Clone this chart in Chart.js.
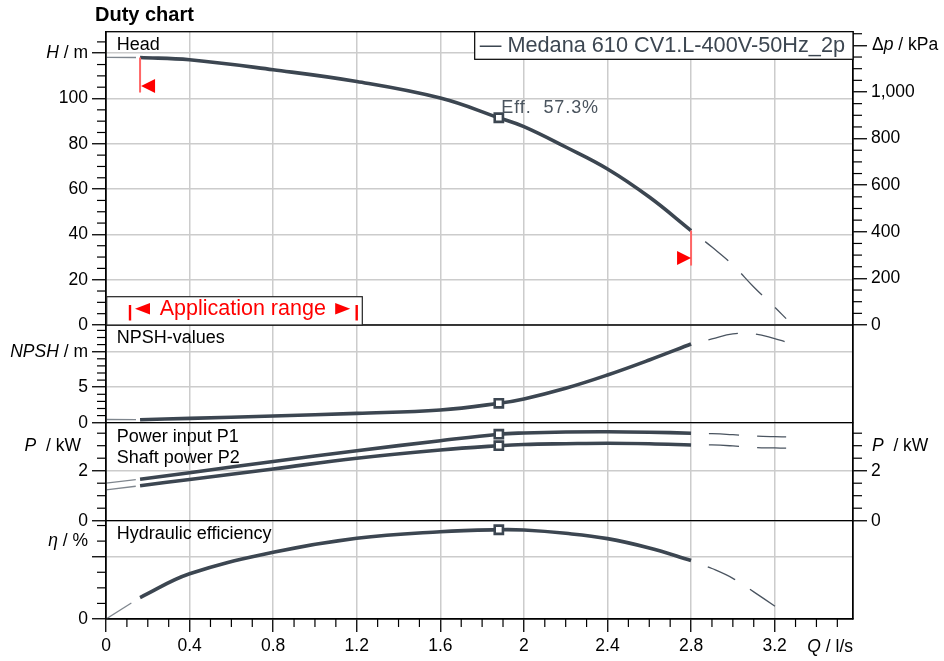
<!DOCTYPE html>
<html>
<head>
<meta charset="utf-8">
<script src="https://cdn.jsdelivr.net/npm/chart.js@4.4.0/dist/chart.umd.min.js"></script>
<style>
  body { margin: 0; background: #fff; }
</style>
</head>
<body>
<canvas id="duty" width="944" height="661"></canvas>

<script>
    // curve points inside the application range (Q in l/s)
    const flow = [0.163, 0.4, 0.8, 1.2, 1.6, 1.88, 2.0, 2.2, 2.4, 2.6, 2.8];
    const head = [118.1, 117.1, 112.7, 107.5, 100.2, 91.5, 87.6, 78.6, 68.9, 56.5, 41.7];
    const npsh = [0.42, 0.61, 0.94, 1.32, 1.79, 2.73, 3.35, 4.85, 6.72, 8.83, 11.08];
    const powerP1 = [1.66, 1.92, 2.37, 2.80, 3.20, 3.46, 3.51, 3.55, 3.56, 3.54, 3.50];
    const powerP2 = [1.40, 1.65, 2.07, 2.50, 2.83, 3.00, 3.05, 3.08, 3.10, 3.08, 3.03];
    const efficiency = [13.8, 29.0, 42.8, 51.8, 56.0, 57.3, 57.1, 55.0, 51.6, 45.6, 37.6];
    const dutyIndex = 5;

    // thin dashed parts outside the range
    const flowLow = [0, 0.163];
    const headLow = [118.2, 118.1];
    const npshLow = [0.45, 0.42];
    const p1Low = [1.50, 1.66];
    const p2Low = [1.23, 1.40];
    const effLow = [0, 13.8];

    const flowHigh = [2.8, 2.9, 3.0, 3.1, 3.2, 3.255];
    const headHigh = [41.7, 34.4, 26.5, 16.8, 7.9, 2.8];
    const npshHigh = [11.08, 11.8, 12.5, 12.5, 11.85, 11.37];
    const p1High = [3.50, 3.48, 3.44, 3.39, 3.36, 3.35];
    const p2High = [3.03, 3.03, 2.99, 2.93, 2.91, 2.90];
    const effHigh = [37.6, 32.4, 26.1, 17.4, 8.3, 3.0];

    const appRange = [0.163, 2.8];
    const pumpName = "Medana 610 CV1.L-400V-50Hz_2p";

    // axis ranges and ticks
    const flowMax = 3.575;
    const xTicks = [0, 0.4, 0.8, 1.2, 1.6, 2, 2.4, 2.8, 3.2];
    const headMax = 129.5, headTicks = [0, 20, 40, 60, 80, 100, 120];
    const kPaPerMetre = 9.72;
    const dpTicks = [0, 200, 400, 600, 800, 1000, 1200];
    const npshMax = 13.76, npshTicks = [0, 5, 10];
    const powerMax = 3.92, powerTicks = [0, 2];
    const effMax = 63.1, effTicks = [0, 40];

    const FONT = '"Liberation Sans", Arial, sans-serif';
    const CURVE = "#3c4651";
    const GRID = "#cccccc";
    const tickFont = {family: FONT, size: 17.5};

    function pts(xs, ys) {
        return xs.map((x, i) => ({x: x, y: ys[i]}));
    }

    function series(axis, ys, low, high) {
        return [
            {data: pts(flow, ys), yAxisID: axis, borderColor: CURVE, borderWidth: 3.6,
             tension: 0.4, pointRadius: 0, order: 2},
            {data: pts(flowLow, low), yAxisID: axis, borderColor: "#7f868e", borderWidth: 1.3,
             borderDash: [30, 18], pointRadius: 0, order: 3},
            {data: pts(flowHigh, high), yAxisID: axis, borderColor: "#4a5460", borderWidth: 1.3,
             borderDash: [30, 18], borderDashOffset: 30, tension: 0.4,
             pointRadius: 0, order: 3},
            {data: [{x: flow[dutyIndex], y: ys[dutyIndex]}], yAxisID: axis, showLine: false,
             pointStyle: "rect", pointRadius: 5.8, borderWidth: 2.6, borderColor: CURVE,
             backgroundColor: "#fff", order: 1}
        ];
    }

    function yAxis(pos, weight, stackWeight, max, ticks, hide) {
        const left = pos === "left";
        return {
            type: "linear", position: pos, stack: left ? "L" : "R", stackWeight: stackWeight, weight: weight,
            min: 0, max: max,
            afterBuildTicks: sc => { sc.ticks = ticks.map(v => ({value: v})); },
            afterFit: sc => { sc.width = left ? 106 : 91; },
            grid: {display: ticks.length > 0, drawOnChartArea: left, color: GRID, lineWidth: 1.5,
                   tickColor: "#000", tickLength: 14, tickWidth: 1.3},
            border: {display: true, color: "#000", width: 1.3},
            ticks: {display: ticks.length > 0, font: tickFont, color: "#000", padding: 4,
                    callback: v => hide.includes(v) ? "" : v.toLocaleString("en-US")}
        };
    }

    function line(ctx, x1, y1, x2, y2) {
        ctx.beginPath();
        ctx.moveTo(x1, y1);
        ctx.lineTo(x2, y2);
        ctx.stroke();
    }

    function minor(ctx, sc, step, major, side, len) {
        for (let k = 0; ; k++) {
            const v = +(k * step).toFixed(6);
            if (v > sc.max + 1e-9) break;
            const r = v / major;
            if (Math.abs(r - Math.round(r)) < 1e-6) continue;
            const p = sc.getPixelForValue(v);
            if (side === "left") line(ctx, sc.right - len, p, sc.right, p);
            else if (side === "right") line(ctx, sc.left, p, sc.left + len, p);
            else line(ctx, p, sc.top, p, sc.top + len);
        }
    }

    // text made of italic and upright parts
    function unit(ctx, parts, x, y, align) {
        let w = 0;
        parts.forEach(p => {
            ctx.font = (p[1] ? "italic " : "") + "17.5px " + FONT;
            w += ctx.measureText(p[0]).width;
        });
        let cx = align === "right" ? x - w : x;
        ctx.textAlign = "left";
        ctx.textBaseline = "middle";
        parts.forEach(p => {
            ctx.font = (p[1] ? "italic " : "") + "17.5px " + FONT;
            ctx.fillText(p[0], cx, y);
            cx += ctx.measureText(p[0]).width;
        });
    }

    function triangle(ctx, tipX, y, dir, w, h) {
        ctx.beginPath();
        ctx.moveTo(tipX, y);
        ctx.lineTo(tipX + dir * w, y - h / 2);
        ctx.lineTo(tipX + dir * w, y + h / 2);
        ctx.closePath();
        ctx.fill();
    }

    const overlay = {
        id: "overlay",
        afterDraw(chart) {
            const {ctx, chartArea: a, scales: s} = chart;
            ctx.save();

            // frame and panel separators
            ctx.strokeStyle = "#000";
            ctx.lineWidth = 1.3;
            ctx.strokeRect(a.left, a.top, a.right - a.left, a.bottom - a.top);
            [s.yN.top, s.yP.top, s.yE.top].forEach(y => line(ctx, a.left, y, a.right, y));

            // minor ticks
            ctx.lineWidth = 1.2;
            minor(ctx, s.yH, 5, 20, "left", 9);
            minor(ctx, s.yDp, 50, 200, "right", 9);
            minor(ctx, s.yN, 1, 5, "left", 9);
            minor(ctx, s.yP, 0.5, 2, "left", 9);
            minor(ctx, s.yPr, 0.5, 2, "right", 9);
            minor(ctx, s.yE, 10, 40, "left", 9);
            minor(ctx, s.x, 0.1, 0.4, "bottom", 8);

            // axis unit labels
            ctx.fillStyle = "#000";
            unit(ctx, [["H", true], [" / m", false]], 88, s.yH.getPixelForValue(120), "right");
            unit(ctx, [["NPSH", true], [" / m", false]], 88, s.yN.getPixelForValue(10), "right");
            unit(ctx, [["P", true], ["  / kW", false]], 81, s.yP.getPixelForValue(3), "right");
            unit(ctx, [["\u03b7", true], [" / %", false]], 88, s.yE.getPixelForValue(50), "right");
            unit(ctx, [["\u0394", false], ["p", true], [" / kPa", false]], 872, s.yDp.getPixelForValue(1200), "left");
            unit(ctx, [["P", true], ["  / kW", false]], 872, s.yPr.getPixelForValue(3), "left");
            unit(ctx, [["Q", true], [" / l/s", false]], a.right, 647, "right");

            // title
            ctx.font = "bold 20px " + FONT;
            ctx.textBaseline = "alphabetic";
            ctx.fillText("Duty chart", 95, 20.7);

            // panel captions
            ctx.font = "18px " + FONT;
            ctx.fillText("Head", a.left + 10.7, s.yH.top + 18.3);
            ctx.fillText("NPSH-values", a.left + 10.7, s.yN.top + 18.3);
            ctx.fillText("Power input P1", a.left + 10.7, s.yP.top + 18.8);
            ctx.fillText("Shaft power P2", a.left + 10.7, s.yP.top + 40.5);
            ctx.fillText("Hydraulic efficiency", a.left + 10.7, s.yE.top + 17.8);

            // legend box
            ctx.font = "21.7px " + FONT;
            const label = "\u2014 " + pumpName;
            const w = ctx.measureText(label).width;
            const bx = a.right - w - 13;
            ctx.fillStyle = "#fff";
            ctx.fillRect(bx, a.top, a.right - bx, 27.6);
            ctx.strokeStyle = "#000";
            ctx.lineWidth = 1.2;
            ctx.strokeRect(bx, a.top, a.right - bx, 27.6);
            ctx.fillStyle = CURVE;
            ctx.textBaseline = "middle";
            ctx.fillText(label, bx + 5, a.top + 14.5);

            // duty point efficiency note
            const dx = s.x.getPixelForValue(flow[dutyIndex]);
            const dy = s.yH.getPixelForValue(head[dutyIndex]);
            ctx.font = "18px " + FONT;
            ctx.letterSpacing = "0.9px";
            ctx.fillStyle = "#4a545e";
            ctx.textBaseline = "alphabetic";
            ctx.fillText("Eff.  " + efficiency[dutyIndex] + "%", dx + 2.5, dy - 5);
            ctx.letterSpacing = "0px";

            // application range limits on the head curve
            const lx = s.x.getPixelForValue(appRange[0]);
            const ly = s.yH.getPixelForValue(head[0]);
            const rx = s.x.getPixelForValue(appRange[1]);
            const ry = s.yH.getPixelForValue(head[head.length - 1]);
            ctx.strokeStyle = "#f66";
            ctx.lineWidth = 2;
            line(ctx, lx, ly, lx, ly + 35);
            line(ctx, rx, ry, rx, ry + 35);
            ctx.fillStyle = "#f00";
            triangle(ctx, lx + 1, ly + 28.5, 1, 14, 14);
            triangle(ctx, rx, ry + 27.5, -1, 14, 14);

            // application range box
            const boxL = a.left + 0.7, boxB = s.yH.bottom, boxT = boxB - 28.3;
            ctx.fillStyle = "#fff";
            ctx.fillRect(boxL, boxT, 255.6, 28.3);
            ctx.strokeStyle = "#222";
            ctx.lineWidth = 1.2;
            ctx.strokeRect(boxL, boxT, 255.6, 28.3);
            ctx.strokeStyle = "#f00";
            ctx.lineWidth = 2.4;
            line(ctx, boxL + 23.3, boxB - 20, boxL + 23.3, boxB - 4.5);
            line(ctx, boxL + 250, boxB - 20, boxL + 250, boxB - 4.5);
            ctx.fillStyle = "#f00";
            triangle(ctx, boxL + 28.3, boxB - 16.3, 1, 15, 11.5);
            triangle(ctx, boxL + 243.5, boxB - 16.3, -1, 15, 11.5);
            ctx.font = "21.5px " + FONT;
            ctx.textBaseline = "middle";
            ctx.fillText("Application range", boxL + 53, boxB - 16);

            ctx.restore();
        }
    };

    const chart = new Chart(document.getElementById("duty"), {
        type: "line",
        data: {
            datasets: [].concat(
                series("yH", head, headLow, headHigh),
                series("yN", npsh, npshLow, npshHigh),
                series("yP", powerP1, p1Low, p1High),
                series("yP", powerP2, p2Low, p2High),
                series("yE", efficiency, effLow, effHigh)
            )
        },
        options: {
            responsive: false,
            animation: false,
            layout: {padding: {top: 31.7, left: 0, right: 0, bottom: 0}},
            plugins: {legend: {display: false}, tooltip: {enabled: false}},
            scales: {
                x: {
                    type: "linear", position: "bottom", min: 0, max: flowMax,
                    afterBuildTicks: sc => { sc.ticks = xTicks.map(v => ({value: v})); },
                    afterFit: sc => { sc.height = 42; },
                    grid: {color: GRID, lineWidth: 1.5, tickColor: "#000", tickLength: 13, tickWidth: 1.3},
                    border: {display: true, color: "#000", width: 1.3},
                    ticks: {font: tickFont, color: "#000", padding: 4, maxRotation: 0, autoSkip: false,
                            callback: v => String(v)}
                },
                yH: yAxis("left", 4, 293.3, headMax, headTicks, [120]),
                yN: yAxis("left", 3, 97.7, npshMax, npshTicks, [10]),
                yP: yAxis("left", 2, 98, powerMax, powerTicks, []),
                yE: yAxis("left", 1, 98.3, effMax, effTicks, [40]),
                yDp: yAxis("right", 1, 293.3, headMax * kPaPerMetre, dpTicks, [1200]),
                yNr: yAxis("right", 2, 97.7, npshMax, [], []),
                yPr: yAxis("right", 3, 98, powerMax, powerTicks, []),
                yEr: yAxis("right", 4, 98.3, effMax, [], [])
            }
        },
        plugins: [overlay]
    });
</script>
</body>
</html>
